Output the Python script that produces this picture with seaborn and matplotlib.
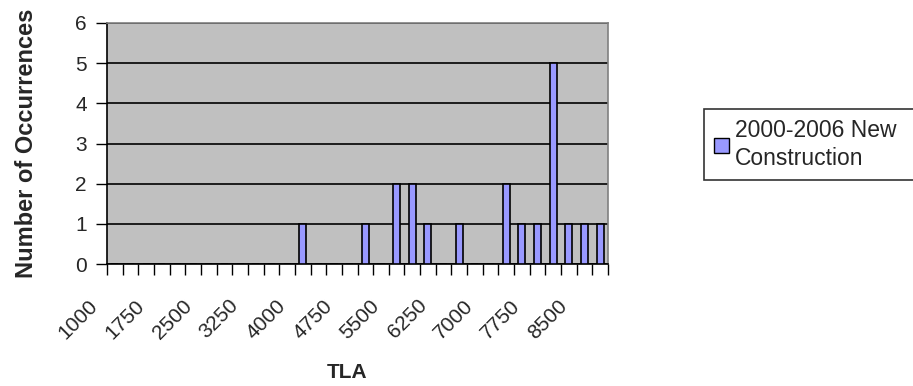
import matplotlib
matplotlib.use("Agg")
import matplotlib.pyplot as plt
from matplotlib.patches import Patch
from matplotlib.transforms import ScaledTranslation
import seaborn as sns
import pandas as pd

# Histogram bins of total living area (TLA), 250 apart
bins = list(range(1000, 9000, 250))
counts = [0, 0, 0, 0, 0, 0, 0, 0, 0, 0, 0, 0,
          1, 0, 0, 0, 1, 0, 2, 2, 1, 0, 1, 0,
          0, 2, 1, 1, 5, 1, 1, 1]
series_name = "2000-2006 New\nConstruction"
y_ticks = [0, 1, 2, 3, 4, 5, 6]

sns.set_theme(style="white")
plt.rcParams["font.family"] = ["Liberation Sans", "DejaVu Sans"]

df = pd.DataFrame({"TLA": [str(b) for b in bins], "count": counts})

fig = plt.figure(figsize=(9.13, 3.86), dpi=100)
ax = fig.add_axes([107 / 913, 1 - 264 / 386, 501 / 913, 241 / 386])

bar_color = "#9999FF"
sns.barplot(data=df, x="TLA", y="count", order=df["TLA"], color=bar_color,
            saturation=1, width=0.45, edgecolor="black", linewidth=1.2, ax=ax,
            zorder=3)

ax.set_facecolor("#C0C0C0")
n = len(bins)
ax.set_yticks(y_ticks)
ax.set_yticklabels([str(v) for v in y_ticks], fontsize=15)
ax.yaxis.grid(True, color="black", linewidth=1.2, zorder=1)
ax.set_axisbelow(True)

# tick marks on the category boundaries; every third one carries a label
bounds = [i - 0.5 for i in range(n + 1)]
ax.set_xticks(bounds)
labels = [str(bins[i]) if (i < n and i % 3 == 0) else "" for i in range(n + 1)]
ax.set_xticklabels(labels, rotation=45, ha="right", va="top",
                   rotation_mode="anchor", fontsize=15)
ax.set_xlim(-0.5, n - 0.5)
ax.set_ylim(0, 6)
ax.tick_params(axis="x", direction="out", length=8, width=1, color="black",
               pad=15, bottom=True)
ax.tick_params(axis="y", direction="out", length=8, width=1, color="black",
               pad=6.5, left=True)
# rotated labels end a little left of their boundary tick
shift = ScaledTranslation(-19 / 100, 0, fig.dpi_scale_trans)
for lab in ax.get_xticklabels():
    lab.set_transform(lab.get_transform() + shift)

for side in ("left", "bottom"):
    ax.spines[side].set_color("black")
    ax.spines[side].set_linewidth(1.2)
for side in ("top", "right"):
    ax.spines[side].set_visible(True)
    ax.spines[side].set_color("#808080")
    ax.spines[side].set_linewidth(1.2)

ax.set_xlabel("TLA", fontsize=15, fontweight="bold")
ax.set_ylabel("Number of Occurrences", fontsize=17, fontweight="bold")
ax.xaxis.set_label_coords(0.48, -0.41)
ax.yaxis.set_label_coords(-0.138, 0.5)

handle = Patch(facecolor=bar_color, edgecolor="black", linewidth=1)
leg = fig.legend([handle], [series_name], loc="upper left",
                 bbox_to_anchor=(704 / 913, 1 - 109 / 386, 220 / 913, 0),
                 mode="expand", fontsize=16.5,
                 frameon=True, fancybox=False, borderpad=0.45,
                 handlelength=0.65, handleheight=0.65, handletextpad=0.25,
                 borderaxespad=0)
leg.get_frame().set_edgecolor("black")
leg.get_frame().set_linewidth(1.2)
for t in leg.get_texts():
    t.set_linespacing(1.25)

fig.savefig("out.png", dpi=100, facecolor="white")
